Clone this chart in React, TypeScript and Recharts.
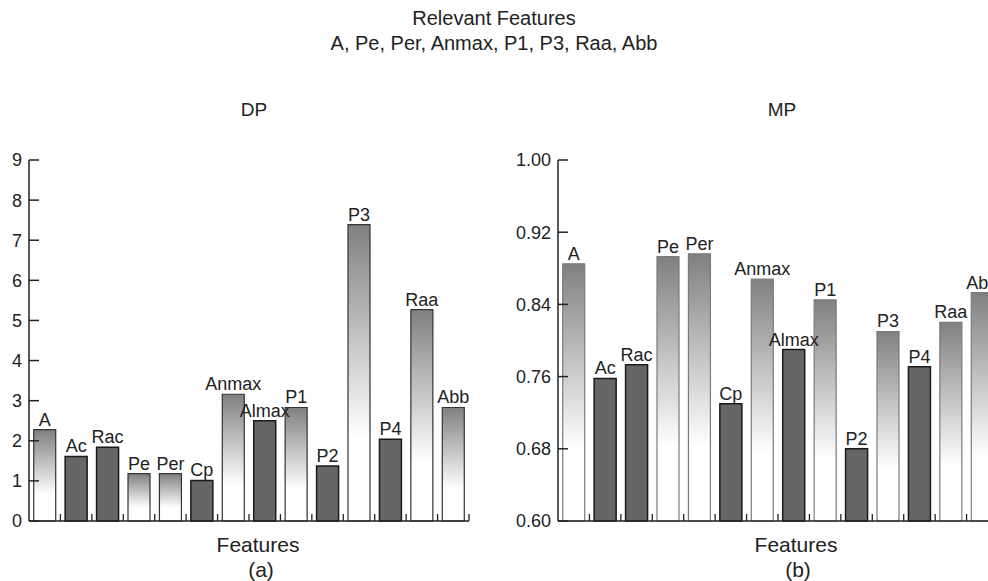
import React from 'react';
import { BarChart, Bar, XAxis, YAxis, Cell, LabelList } from 'recharts';

const categories = ['A', 'Ac', 'Rac', 'Pe', 'Per', 'Cp', 'Anmax', 'Almax', 'P1', 'P2', 'P3', 'P4', 'Raa', 'Abb'];
const dpValues = [2.28, 1.61, 1.84, 1.18, 1.18, 1.01, 3.16, 2.5, 2.83, 1.37, 7.39, 2.04, 5.27, 2.83];
const mpValues = [0.885, 0.758, 0.773, 0.893, 0.896, 0.73, 0.868, 0.79, 0.845, 0.68, 0.81, 0.771, 0.82, 0.853];
const relevantFeatures = ['A', 'Pe', 'Per', 'Anmax', 'P1', 'P3', 'Raa', 'Abb'];
const dpTicks = [0, 1, 2, 3, 4, 5, 6, 7, 8, 9];
const mpTicks = [0.6, 0.68, 0.76, 0.84, 0.92, 1.0];

const FONT = '"Liberation Sans", Arial, Helvetica, sans-serif';
const PLOT_W = 440;
const BAND = PLOT_W / categories.length;
const AXIS = '#222';

const dpData = categories.map((name, i) => ({ name, value: dpValues[i], rel: relevantFeatures.includes(name) }));
const mpData = categories.map((name, i) => ({ name, value: mpValues[i], rel: relevantFeatures.includes(name) }));

const XTick = (props: any) => {
  const { x, y } = props;
  const bx = x + BAND / 2;
  return <line x1={bx} x2={bx} y1={y} y2={y - 7} stroke={AXIS} strokeWidth={1.3} />;
};

const makeYTick = (fmt: (v: number) => string) => (props: any) => {
  const { x, y, payload } = props;
  return (
    <g>
      <line x1={x} x2={x + 10} y1={y} y2={y} stroke={AXIS} strokeWidth={1.5} />
      <text x={x - 7} y={y} dy="0.36em" textAnchor="end" fontSize={18} fill="#222" fontFamily={FONT}>
        {fmt(payload.value)}
      </text>
    </g>
  );
};

const Panel = ({ data, domain, ticks, fmt, gid, relStroke, yWidth }: any) => (
  <BarChart
    width={yWidth + PLOT_W + 20}
    height={581}
    data={data}
    margin={{ top: 160, right: 20, bottom: 0, left: 0 }}
    barCategoryGap="15%"
  >
    <defs>
      <linearGradient id={gid} x1="0" y1="0" x2="0" y2="1">
        <stop offset="0%" stopColor="#808080" />
        <stop offset="72%" stopColor="#ffffff" />
        <stop offset="100%" stopColor="#ffffff" />
      </linearGradient>
    </defs>
    <XAxis
      dataKey="name"
      height={60}
      interval={0}
      tickLine={false}
      tickSize={0}
      tickMargin={0}
      tick={<XTick />}
      axisLine={{ stroke: AXIS, strokeWidth: 1.5 }}
    />
    <YAxis
      width={yWidth}
      domain={domain}
      ticks={ticks}
      interval={0}
      tickLine={false}
      tickSize={0}
      tickMargin={0}
      tick={makeYTick(fmt)}
      axisLine={{ stroke: AXIS, strokeWidth: 1.5 }}
    />
    <Bar dataKey="value" isAnimationActive={false}>
      {data.map((d: any) => (
        <Cell
          key={d.name}
          fill={d.rel ? `url(#${gid})` : '#666666'}
          stroke={d.rel ? relStroke : '#1a1a1a'}
          strokeWidth={d.rel ? 1.2 : 1.5}
        />
      ))}
      <LabelList dataKey="name" position="top" offset={4} fontSize={18} fill="#222" fontFamily={FONT} />
    </Bar>
  </BarChart>
);

const T = ({ x, top, size, children }: any) => (
  <div
    style={{
      position: 'absolute',
      left: x,
      top,
      transform: 'translateX(-50%)',
      fontSize: size,
      lineHeight: `${size}px`,
      whiteSpace: 'nowrap',
      color: '#222',
      fontFamily: FONT,
    }}
  >
    {children}
  </div>
);

export default function App() {
  return (
    <div
      style={{
        position: 'absolute',
        left: 0,
        top: 0,
        width: 988,
        height: 581,
        overflow: 'hidden',
        background: '#fff',
        fontFamily: FONT,
      }}
    >
      <T x={494} top={8} size={20}>Relevant Features</T>
      <T x={494} top={33} size={20}>A, Pe, Per, Anmax, P1, P3, Raa, Abb</T>
      <T x={254} top={100} size={19}>DP</T>
      <T x={782} top={100} size={19}>MP</T>
      <div style={{ position: 'absolute', left: 0, top: 0 }}>
        <Panel data={dpData} domain={[0, 9]} ticks={dpTicks} fmt={(v: number) => String(v)} gid="gradDP" relStroke="#333" yWidth={29} />
      </div>
      <div style={{ position: 'absolute', left: 498, top: 0 }}>
        <Panel data={mpData} domain={[0.6, 1.0]} ticks={mpTicks} fmt={(v: number) => v.toFixed(2)} gid="gradMP" relStroke="#7a7a7a" yWidth={60} />
      </div>
      <T x={258} top={534} size={21}>Features</T>
      <T x={261} top={559} size={21}>(a)</T>
      <T x={796} top={534} size={21}>Features</T>
      <T x={798} top={559} size={21}>(b)</T>
    </div>
  );
}
